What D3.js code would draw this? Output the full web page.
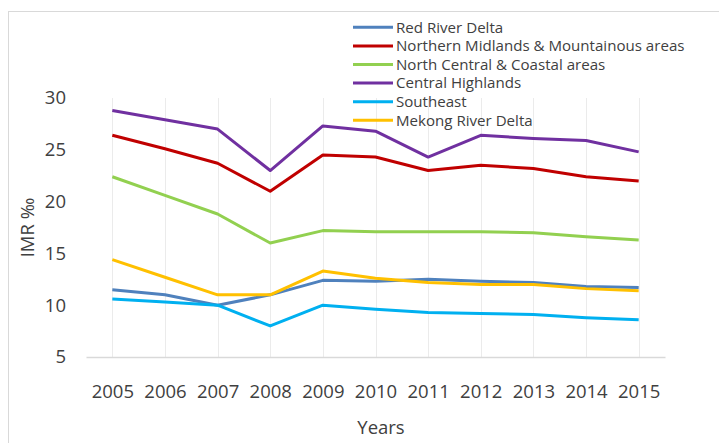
<!DOCTYPE html>
<html>
<head>
<meta charset="utf-8">
<script src="https://cdn.jsdelivr.net/npm/d3@7"></script>
<style>
  html, body { margin: 0; padding: 0; background: #fff; }
  svg { display: block; }
  text { font-family: "Open Sans", sans-serif; fill: #404040; }
</style>
</head>
<body>
<svg id="chart" width="719" height="443"></svg>
<script>
const years = ["2005","2006","2007","2008","2009","2010","2011","2012","2013","2014","2015"];
const yTicks = [5, 10, 15, 20, 25, 30];
const seriesNames = ["Red River Delta", "Northern Midlands & Mountainous areas", "North Central & Coastal areas", "Central Highlands", "Southeast", "Mekong River Delta"];
const seriesColors = ["#4F81BD", "#C00000", "#92D050", "#7030A0", "#00B0F0", "#FFC000"];
const redRiverDelta = [11.5, 11.0, 10.0, 11.0, 12.4, 12.3, 12.5, 12.3, 12.2, 11.8, 11.7];
const northernMidlands = [26.4, 25.1, 23.7, 21.0, 24.5, 24.3, 23.0, 23.5, 23.2, 22.4, 22.0];
const northCentral = [22.4, 20.6, 18.8, 16.0, 17.2, 17.1, 17.1, 17.1, 17.0, 16.6, 16.3];
const centralHighlands = [28.8, 27.9, 27.0, 23.0, 27.3, 26.8, 24.3, 26.4, 26.1, 25.9, 24.8];
const southeast = [10.6, 10.3, 10.0, 8.0, 10.0, 9.6, 9.3, 9.2, 9.1, 8.8, 8.6];
const mekong = [14.4, 12.7, 11.0, 11.0, 13.3, 12.6, 12.2, 12.0, 12.0, 11.6, 11.4];
const seriesValues = [redRiverDelta, northernMidlands, northCentral, centralHighlands, southeast, mekong];

const svg = d3.select("#chart");

// outer chart border
svg.append("rect")
  .attr("x", 8.5).attr("y", 11.5)
  .attr("width", 760).attr("height", 460)
  .attr("fill", "none").attr("stroke", "#d9d9d9").attr("stroke-width", 1);

const x = d3.scalePoint().domain(years).range([86, 665]).padding(0.5);
const y = d3.scaleLinear().domain([5, 30]).range([357, 98]);

// vertical gridlines
svg.append("g").selectAll("line").data(years).join("line")
  .attr("x1", d => Math.round(x(d)) + 0.5).attr("x2", d => Math.round(x(d)) + 0.5)
  .attr("y1", y(30)).attr("y2", y(5))
  .attr("stroke", "#ebebeb").attr("stroke-width", 1);

// x axis
const xAxis = svg.append("g")
  .attr("transform", `translate(0,${y(5)})`)
  .call(d3.axisBottom(x).tickSize(0).tickPadding(28));
xAxis.select(".domain").attr("stroke", "#d9d9d9").attr("stroke-width", 1.5);
xAxis.selectAll("text").style("font-size", "18.5px").style("font-family", "'Open Sans', sans-serif").attr("fill", "#262626");

// y axis
const yAxis = svg.append("g")
  .attr("transform", `translate(66,0)`)
  .call(d3.axisLeft(y).tickValues(yTicks).tickSize(0).tickPadding(0));
yAxis.select(".domain").remove();
yAxis.selectAll("text").style("font-size", "18.5px").style("font-family", "'Open Sans', sans-serif").attr("fill", "#262626");

// axis titles
svg.append("text")
  .attr("transform", `translate(34,${(y(5) + y(30)) / 2}) rotate(-90)`)
  .attr("text-anchor", "middle")
  .style("font-size", "18.5px").attr("fill", "#262626")
  .text("IMR ‰");
svg.append("text")
  .attr("x", 381).attr("y", 434)
  .attr("text-anchor", "middle")
  .style("font-size", "18.5px").attr("fill", "#262626")
  .text("Years");

// lines
const line = d3.line().x((d, i) => x(years[i])).y(d => y(d));
svg.append("g").selectAll("path").data(seriesValues).join("path")
  .attr("d", d => line(d))
  .attr("fill", "none")
  .attr("stroke", (d, i) => seriesColors[i])
  .attr("stroke-width", 3)
  .attr("stroke-linejoin", "round");

// legend
const legend = svg.append("g");
const rows = legend.selectAll("g").data(seriesNames).join("g")
  .attr("transform", (d, i) => `translate(353,${27.3 + i * 18.6})`);
rows.append("line")
  .attr("x1", 0).attr("x2", 40).attr("y1", 0).attr("y2", 0)
  .attr("stroke", (d, i) => seriesColors[i]).attr("stroke-width", 3);
rows.append("text")
  .attr("x", 43).attr("y", 0).attr("dy", "0.35em")
  .style("font-size", "15.1px").attr("fill", "#262626")
  .text(d => d);
</script>
</body>
</html>
